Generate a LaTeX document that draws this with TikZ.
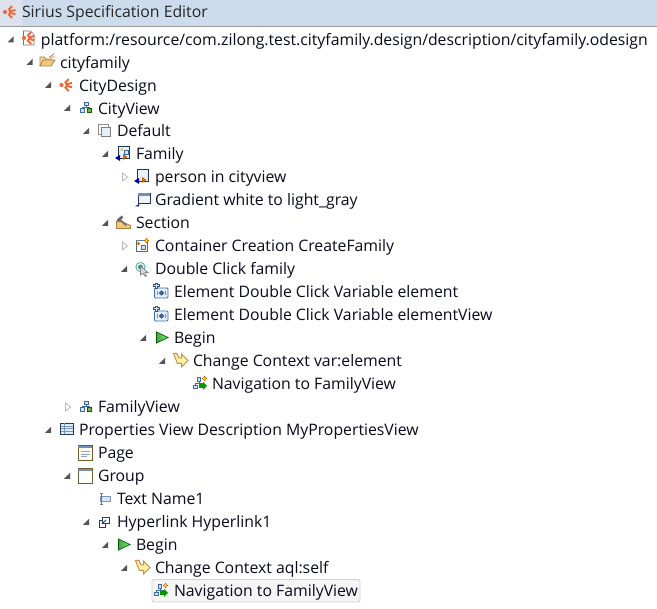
\documentclass[tikz,border=0pt]{standalone}
\usepackage{fontspec}
\setmainfont{Open Sans}
\definecolor{hdr}{HTML}{CDDCEC}
\definecolor{hdrl}{HTML}{DCE3EC}
\definecolor{ink}{HTML}{0A0A1E}
\definecolor{sir}{HTML}{EE6A3C}
\definecolor{nblue}{HTML}{3F6AA8}
\definecolor{ngreen}{HTML}{7CB342}
\definecolor{pane}{HTML}{D5E4F2}
\definecolor{fold}{HTML}{F2C879}
\definecolor{foldd}{HTML}{A88245}
\definecolor{arrowd}{HTML}{555555}
\definecolor{arrowo}{HTML}{B5BAC2}
\tikzset{
  x=1pt,y=-1pt,
  row/.style={anchor=base west,inner sep=0pt,outer sep=0pt,text=ink,font=\fontsize{15.8}{17}\selectfont},
  title/.style={row,text=black!85},
  pics/tri/.style={code={\fill[arrowd] (3,-3) -- (3,3) -- (-3,3) -- cycle;}},
  pics/otri/.style={code={\draw[arrowo,fill=white,line width=.8pt] (-2.5,-4) -- (2.5,0) -- (-2.5,4) -- cycle;}},
  pics/sirius/.style={code={
    \fill[sir] (-4.5,0) circle (2.1);
    \draw[sir,line width=2pt] (-1.2,-1.8) -- (2.6,-6) (-.5,-.5) -- (6,-2) (-.5,.7) -- (6,2.2) (-1.2,1.9) -- (2.6,6);}},
  pics/odesign/.style={code={
    \draw[black!55,fill=white,line width=.7pt] (-5,-7) -- (2,-7) -- (5.5,-3.5) -- (5.5,7) -- (-5,7) -- cycle;
    \begin{scope}[scale=.62] \pic{sirius}; \end{scope}}},
  pics/folder/.style={code={
    \draw[foldd,fill=fold!70!white,line width=.8pt] (-7,6) -- (-7,-3) -- (-3,-3) -- (-1,-1) -- (5,-1) -- (5,1);
    \draw[foldd,fill=fold,line width=.8pt] (-7,6) -- (-4,0) -- (8,0) -- (4,6) -- cycle;
    \fill[sir] (3,-3) circle (1); \draw[sir,line width=.8pt] (4,-4) -- (7,-6) (4,-3) -- (8,-3);}},
  pics/dview/.style={code={
    \draw[nblue,fill=pane,line width=.8pt] (-2,-5.5) rectangle (2,-2);
    \draw[nblue,line width=.7pt] (0,-2) -- (0,0) (-3.5,1) -- (-3.5,0) -- (3.5,0) -- (3.5,1);
    \draw[nblue,fill=pane,line width=.8pt] (-5.5,1) rectangle (-1.5,5);
    \draw[black!60!green,fill=ngreen,line width=.8pt] (1.5,1) rectangle (5.5,5);}},
  pics/layer/.style={code={
    \draw[black!45,fill=white,line width=.8pt] (-6,-6) rectangle (3.5,3.5);
    \draw[black!50,fill=pane!60!white,line width=.8pt] (-3.5,-3.5) rectangle (6,6);}},
  pics/mapping/.style={code={
    \draw[black!50!nblue,fill=pane!50!white,line width=.8pt] (-5,-7) rectangle (6.5,5);
    \fill[blue!70!black] (-8,5) -- (-3,2) -- (-3,8) -- cycle;
    \fill[orange!80!black] (0,1) -- (4.5,4) -- (0,7) -- cycle;}},
  pics/containermap/.style={code={
    \pic{mapping};
    \fill[fold] (-1,-3.5) circle (1.8);
    \draw[nblue,fill=pane,line width=.6pt] (1,-2.5) rectangle (5.5,1);}},
  pics/gradient/.style={code={
    \draw[black!50!nblue,fill=pane!40!white,line width=.8pt] (-4,-6) rectangle (8,4);
    \fill[nblue!70!pane] (-3.6,-5.6) rectangle (7.6,-3);
    \fill[blue!70!black] (-7,7.5) -- (-3,5) -- (-3,7.5) -- cycle;}},
  pics/section/.style={code={
    \draw[foldd,fill=fold,line width=.8pt] (-7,5) -- (-7,-1) -- (-2,-1) -- (7,3) -- (7,6) -- (-7,6) -- cycle;
    \draw[black!55,line width=1.8pt] (-5,-4) -- (3,3);
    \draw[black!60,line width=2.6pt] (-6,-1.5) -- (-1,-6);}},
  pics/creation/.style={code={
    \draw[black!60,fill=white,line width=.8pt] (-6,-5) rectangle (5.5,6.5);
    \fill[nblue!80!pane] (-6,-5) rectangle (5.5,-3.5);
    \fill[orange!80!black] (-3.5,-1.5) circle (1.6);
    \draw[nblue,fill=pane,line width=.6pt] (-1,.5) rectangle (3.5,4);
    \fill[yellow!85!orange,draw=orange!70!black,line width=.4pt] (4.5,-7) -- (5.4,-5.2) -- (7,-4.5) -- (5.4,-3.8) -- (4.5,-2) -- (3.6,-3.8) -- (2,-4.5) -- (3.6,-5.2) -- cycle;}},
  pics/dclick/.style={code={
    \draw[teal!60!white,line width=1pt] (-1.5,-1.5) circle (4.6);
    \fill[teal!70!black!70!white] (-1.5,-1.5) circle (2.5);
    \draw[black!50,fill=white!85!black,line width=.7pt] (-1.5,-2) -- (6,4) -- (2.8,4.2) -- (4.5,7.5) -- (3,7.8) -- (1,4.8) -- (-1.5,6.5) -- cycle;}},
  pics/variable/.style={code={
    \draw[nblue,fill=pane!60!white,line width=.8pt,rounded corners=1pt] (-6,-3) rectangle (7.5,7);
    \draw[nblue!80!black,fill=pane,line width=.8pt] (-7.5,-6.2) -- (-5.5,-6.2) -- (-5.5,-8) -- (-3.5,-8) -- (-3.5,-6.2) -- (-1.5,-6.2) -- (-1.5,-4.2) -- (-3.5,-4.2) -- (-3.5,-2.2) -- (-5.5,-2.2) -- (-5.5,-4.2) -- (-7.5,-4.2) -- cycle;
    \draw[nblue!70!black,fill=nblue,line width=.5pt] (1,-.2) -- (3.2,2) -- (1,4.2) -- (-1.2,2) -- cycle;
    \draw[nblue,line width=.6pt] (-2.5,0) -- (-3.5,2) -- (-2.5,4) (4.5,0) -- (5.5,2) -- (4.5,4);}},
  pics/beginp/.style={code={
    \draw[green!35!black,left color=green!45!black!70!white,right color=green!60!white,line width=.7pt] (-5.5,-5.5) -- (6,0) -- (-5.5,5.5) -- cycle;}},
  pics/cctx/.style={code={
    \draw[foldd!70!orange!90!white,fill=yellow!30!white!85!fold,line width=1pt] (-7,-6.5) -- (-3.5,-6.5) -- (-1.5,-2) -- (1,-2) -- (1,-6) -- (7.5,0.5) -- (1,7) -- (1,3.5) -- (-3,3.5) -- cycle;}},
  pics/nav/.style={code={
    \draw[nblue,fill=pane,line width=.7pt] (-3,-5.5) rectangle (0.5,-2);
    \draw[nblue,fill=pane,line width=.7pt] (-6.5,2) rectangle (-2.5,5.5);
    \draw[nblue,line width=.6pt] (-1.2,-2) -- (-1.2,0) (-4.5,2) -- (-4.5,0) -- (3,0);
    \fill[green!60!black] (-1,1) -- (3,1) -- (3,-1) -- (7,3) -- (3,7) -- (3,5) -- (-1,5) -- cycle;
    \fill[yellow!85!orange,draw=orange!70!black,line width=.3pt] (4.5,-7) -- (5.3,-5.3) -- (7,-4.5) -- (5.3,-3.7) -- (4.5,-2) -- (3.7,-3.7) -- (2,-4.5) -- (3.7,-5.3) -- cycle;}},
  pics/pview/.style={code={
    \draw[black!45!nblue,fill=pane!70!white,line width=.9pt] (-6,-5.5) rectangle (6.5,5.5);
    \foreach \yy in {-2.5,0,2.5} {\draw[nblue!70!white,line width=.7pt] (-6,\yy) -- (6.5,\yy);}
    \draw[nblue!70!white,line width=.7pt] (-2.5,-5.5) -- (-2.5,5.5);}},
  pics/page/.style={code={
    \draw[foldd!70!black,fill=white!92!fold,line width=.9pt] (-7.5,-7) rectangle (7,7.5);
    \fill[nblue!70!pane] (-7.1,-6.6) rectangle (6.6,-4);
    \foreach \yy/\xe in {-1/4.5,1.5/4.5,4/1} {\draw[nblue!60!white,line width=.7pt] (-4.5,\yy) -- (\xe,\yy);}}},
  pics/group/.style={code={
    \draw[foldd!70!black,fill=white,line width=.9pt] (-7.5,-7) rectangle (7,7.5);
    \fill[nblue!70!pane] (-7.1,-6.6) rectangle (6.6,-4);}},
  pics/textw/.style={code={
    \draw[nblue!70!white,fill=pane,line width=.7pt] (-4,-2.5) rectangle (6,2.5);
    \draw[black!55,line width=.7pt] (-4,-5.5) -- (-1,-5.5) (-2.5,-5.5) -- (-2.5,5.5) (-4,5.5) -- (-1,5.5);}},
  pics/hyper/.style={code={
    \draw[nblue!60!black,fill=white,line width=.9pt] (-5,-1.5) rectangle (1.5,5);
    \draw[nblue!60!black,fill=white,line width=.9pt] (-1.5,-5) rectangle (5,1.5);
    \draw[nblue!60!black,line width=.9pt] (-2,2) -- (2,-2);}},
}
\newcommand{\rowtxt}[4]{\node[row] (#1) at (#2,#3+1.5) {#4};}
\begin{document}
\begin{tikzpicture}
\useasboundingbox (0,0) rectangle (657,609);
\fill[white] (0,0) rectangle (657,609);
\fill[hdr] (0,0) rectangle (657,26);
\fill[hdrl] (0,0) rectangle (22,26);
\draw[black!40,line width=.8pt] (0,26.4) -- (657,26.4);
\pic at (9.5,12) {sirius};
\node[title] (ttl) at (22,18) {Sirius Specification Editor};
% selection
\draw[black!18,fill=black!4,rounded corners=2pt,line width=.8pt] (152,579.5) rectangle (360,602);
% tree
\pic at (10.5,39.5) {tri}; \pic at (28.5,38) {odesign};
\rowtxt{r1}{41}{44}{platform:/resource/com.zilong.test.cityfamily.design/description/cityfamily.odesign}
\pic at (29.5,62) {tri}; \pic at (47,60) {folder};
\rowtxt{r2}{60}{67}{cityfamily}
\pic at (48,85) {tri}; \pic at (66,85) {sirius};
\rowtxt{r3}{79}{90}{CityDesign}
\pic at (67,108) {tri}; \pic at (86,107.5) {dview};
\rowtxt{r4}{98}{113}{CityView}
\pic at (86,131) {tri}; \pic at (104.5,130.5) {layer};
\rowtxt{r5}{117}{135}{Default}
\pic at (105,154) {tri}; \pic at (123,153) {containermap};
\rowtxt{r6}{136}{158}{Family}
\pic at (125,177) {otri}; \pic at (142,176) {mapping};
\rowtxt{r7}{155}{181}{person in cityview}
\pic at (142,199) {gradient};
\rowtxt{r8}{155}{204}{Gradient white to light\_gray}
\pic at (105,223) {tri}; \pic at (123.5,222.5) {section};
\rowtxt{r9}{136}{227}{Section}
\pic at (125,246) {otri}; \pic at (142,245) {creation};
\rowtxt{r10}{155}{250}{Container Creation CreateFamily}
\pic at (124,269) {tri}; \pic at (142,268.5) {dclick};
\rowtxt{r11}{155}{273}{Double Click family}
\pic at (160.5,291) {variable};
\rowtxt{r12}{174}{296}{Element Double Click Variable element}
\pic at (160.5,314) {variable};
\rowtxt{r13}{174}{319}{Element Double Click Variable elementView}
\pic at (143,338) {tri}; \pic at (162,337.5) {beginp};
\rowtxt{r14}{174}{342}{Begin}
\pic at (162,361) {tri}; \pic at (180.5,360) {cctx};
\rowtxt{r15}{193}{365}{Change Context var:element}
\pic at (200,383) {nav};
\rowtxt{r16}{212}{388}{Navigation to FamilyView}
\pic at (68,407) {otri}; \pic at (86,406.5) {dview};
\rowtxt{r17}{98}{411}{FamilyView}
\pic at (48,430) {tri}; \pic at (66.5,428.5) {pview};
\rowtxt{r18}{79}{434}{Properties View Description MyPropertiesView}
\pic at (85.5,452.5) {page};
\rowtxt{r19}{98}{457}{Page}
\pic at (67,476) {tri}; \pic at (85.5,475.5) {group};
\rowtxt{r20}{98}{480}{Group}
\pic at (104,499) {textw};
\rowtxt{r21}{117}{503}{Text Name1}
\pic at (86,522) {tri}; \pic at (104,522) {hyper};
\rowtxt{r22}{117}{526}{Hyperlink Hyperlink1}
\pic at (105,545) {tri}; \pic at (124,544.5) {beginp};
\rowtxt{r23}{136}{549}{Begin}
\pic at (124,568) {tri}; \pic at (142.5,567) {cctx};
\rowtxt{r24}{155}{572}{Change Context aql:self}
\pic at (161,590) {nav};
\rowtxt{r25}{174}{595}{Navigation to FamilyView}
\end{tikzpicture}
\end{document}
